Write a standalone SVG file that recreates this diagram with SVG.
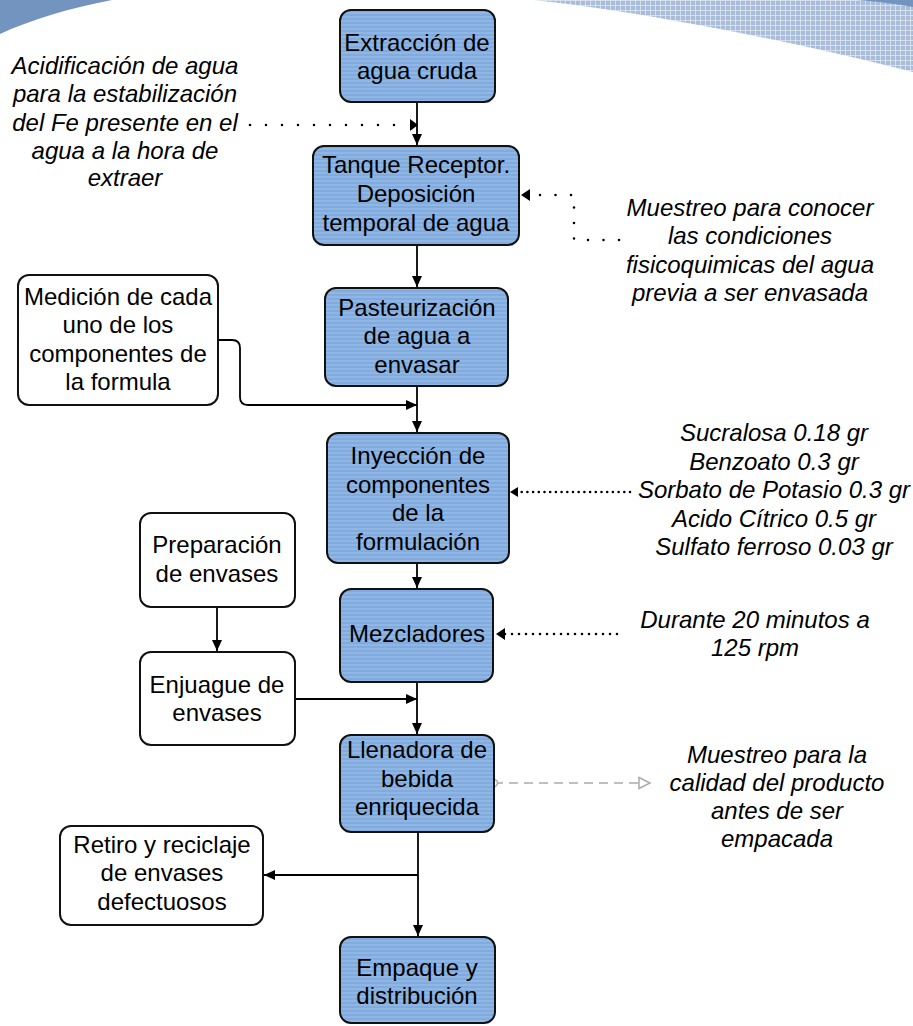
<svg xmlns="http://www.w3.org/2000/svg" width="913" height="1026" viewBox="0 0 913 1026">
<defs>
<style>
.t{font-family:"Liberation Sans",Arial,sans-serif;font-size:24px;fill:#000;text-anchor:middle}
.i{font-style:italic}
.blue{fill:url(#stripe);stroke:#111;stroke-width:2}
.white{fill:#fff;stroke:#111;stroke-width:2}
.ln{fill:none;stroke:#000;stroke-width:1.8}
.dot{fill:none;stroke:#000;stroke-width:2.6;stroke-linecap:round}
</style>
<pattern id="stripe" patternUnits="userSpaceOnUse" width="6" height="4">
<rect width="6" height="4" fill="#8fb6e4"/>
<rect y="2" width="6" height="2" fill="#82abdd"/>
</pattern>
<pattern id="hatch" patternUnits="userSpaceOnUse" width="5" height="5">
<rect width="5" height="5" fill="#a9bdda"/>
<path d="M0,0.5 H5 M0.5,0 V5" stroke="#dfe7f2" stroke-width="0.8"/>
</pattern>
<marker id="ar" markerUnits="userSpaceOnUse" markerWidth="12" markerHeight="10" refX="11" refY="5" orient="auto">
<path d="M0,0 L11,5 L0,10 Z" fill="#000"/>
</marker>
<marker id="aro" markerUnits="userSpaceOnUse" markerWidth="14" markerHeight="14" refX="12" refY="7" orient="auto">
<path d="M1,1.5 L12,7 L1,12.5 Z" fill="#fff" stroke="#aaa" stroke-width="1.5"/>
</marker>
<marker id="circ" markerUnits="userSpaceOnUse" markerWidth="10" markerHeight="10" refX="5" refY="5" orient="auto">
<circle cx="5" cy="5" r="3.5" fill="#fff" stroke="#aaa" stroke-width="1.5"/>
</marker>
</defs>
<rect width="913" height="1026" fill="#fff"/>
<g id="background">
<path d="M533,0 C630,10 780,38 913,72 L913,0 Z" fill="url(#hatch)"/>
<path d="M858,0 C880,2 898,4 913,7 L913,0 Z" fill="#7494c0"/>
<path d="M0,0 L112,0 C70,8 30,20 0,34 Z" fill="#7494c0"/>
</g>
<g id="connectors">
<path class="ln" d="M417,102 V145" marker-end="url(#ar)"/>
<path class="dot" d="M250,125 H410" stroke-dasharray="0 16"/>
<path d="M410,119 L418,125 L410,131 Z" fill="#000"/>
<path class="ln" d="M417,245 V287" marker-end="url(#ar)"/>
<path class="dot" d="M619,240 H574 V195 H528" stroke-dasharray="0 15.5"/>
<path d="M530,189 L521,195 L530,201 Z" fill="#000"/>
<path class="ln" d="M218,340 H232 Q240,340 240,348 V397 Q240,405 248,405 H417" marker-end="url(#ar)"/>
<path class="ln" d="M417,386 V432" marker-end="url(#ar)"/>
<path class="dot" d="M630,492 H516" stroke-width="2" stroke-dasharray="0 5.7"/>
<path d="M518,487 L510,492 L518,497 Z" fill="#000"/>
<path class="ln" d="M417,563 V588" marker-end="url(#ar)"/>
<path class="dot" d="M617,634 H504" stroke-width="2" stroke-dasharray="0 7"/>
<path d="M505,628 L496,634 L505,640 Z" fill="#000"/>
<path class="ln" d="M217,607 V651" marker-end="url(#ar)"/>
<path class="ln" d="M417,682 V734" marker-end="url(#ar)"/>
<path class="ln" d="M295,699 H417" marker-end="url(#ar)"/>
<path d="M494,783 H650" fill="none" stroke="#aaa" stroke-width="1.6" stroke-dasharray="9 6" marker-start="url(#circ)" marker-end="url(#aro)"/>
<path class="ln" d="M418,832 V936" marker-end="url(#ar)"/>
<path class="ln" d="M418,875 H264" marker-end="url(#ar)"/>
</g>
<g id="n-extraccion">
<rect class="blue" x="340" y="10" width="155" height="92" rx="11"/>
<text class="t" x="417" y="51">Extracción de</text>
<text class="t" x="417" y="79">agua cruda</text>
</g>
<g id="n-tanque">
<rect class="blue" x="313" y="146" width="206" height="99" rx="11"/>
<text class="t" x="416" y="173">Tanque Receptor.</text>
<text class="t" x="416" y="202">Deposición</text>
<text class="t" x="416" y="231">temporal de agua</text>
</g>
<g id="n-pasteurizacion">
<rect class="blue" x="325" y="288" width="183" height="98" rx="11"/>
<text class="t" x="417" y="316">Pasteurización</text>
<text class="t" x="417" y="344">de agua a</text>
<text class="t" x="417" y="373">envasar</text>
</g>
<g id="n-inyeccion">
<rect class="blue" x="327" y="433" width="182" height="130" rx="11"/>
<text class="t" x="418" y="464">Inyección de</text>
<text class="t" x="418" y="493">componentes</text>
<text class="t" x="418" y="521">de la</text>
<text class="t" x="418" y="550">formulación</text>
</g>
<g id="n-mezcladores">
<rect class="blue" x="340" y="589" width="153" height="93" rx="11"/>
<text class="t" x="417" y="642">Mezcladores</text>
</g>
<g id="n-llenadora">
<rect class="blue" x="340" y="735" width="154" height="97" rx="11"/>
<text class="t" x="417" y="758">Llenadora de</text>
<text class="t" x="417" y="787">bebida</text>
<text class="t" x="417" y="815">enriquecida</text>
</g>
<g id="n-empaque">
<rect class="blue" x="340" y="937" width="155" height="86" rx="11"/>
<text class="t" x="417" y="976">Empaque y</text>
<text class="t" x="417" y="1004">distribución</text>
</g>
<g id="n-medicion">
<rect class="white" x="18" y="275" width="200" height="130" rx="11"/>
<text class="t" x="118" y="305">Medición de cada</text>
<text class="t" x="118" y="333">uno de los</text>
<text class="t" x="118" y="362">componentes de</text>
<text class="t" x="118" y="390">la formula</text>
</g>
<g id="n-preparacion">
<rect class="white" x="140" y="513" width="155" height="94" rx="11"/>
<text class="t" x="217" y="553">Preparación</text>
<text class="t" x="217" y="582">de envases</text>
</g>
<g id="n-enjuague">
<rect class="white" x="140" y="652" width="155" height="93" rx="11"/>
<text class="t" x="217" y="693">Enjuague de</text>
<text class="t" x="217" y="721">envases</text>
</g>
<g id="n-retiro">
<rect class="white" x="60" y="826" width="203" height="99" rx="11"/>
<text class="t" x="162" y="853">Retiro y reciclaje</text>
<text class="t" x="162" y="881">de envases</text>
<text class="t" x="162" y="910">defectuosos</text>
</g>
<g id="note-acidificacion">
<text class="t i" x="125" y="74">Acidificación de agua</text>
<text class="t i" x="125" y="102">para la estabilización</text>
<text class="t i" x="125" y="131">del Fe presente en el</text>
<text class="t i" x="125" y="159">agua a la hora de</text>
<text class="t i" x="125" y="186">extraer</text>
</g>
<g id="note-muestreo1">
<text class="t i" x="750" y="216">Muestreo para conocer</text>
<text class="t i" x="750" y="244">las condiciones</text>
<text class="t i" x="750" y="273">fisicoquimicas del agua</text>
<text class="t i" x="750" y="301">previa a ser envasada</text>
</g>
<g id="note-formula">
<text class="t i" x="774" y="441">Sucralosa 0.18 gr</text>
<text class="t i" x="774" y="470">Benzoato 0.3 gr</text>
<text class="t i" x="774" y="498">Sorbato de Potasio 0.3 gr</text>
<text class="t i" x="774" y="527">Acido Cítrico 0.5 gr</text>
<text class="t i" x="774" y="555">Sulfato ferroso 0.03 gr</text>
</g>
<g id="note-durante">
<text class="t i" x="755" y="628">Durante 20 minutos a</text>
<text class="t i" x="755" y="656">125 rpm</text>
</g>
<g id="note-muestreo2">
<text class="t i" x="777" y="763">Muestreo para la</text>
<text class="t i" x="777" y="791">calidad del producto</text>
<text class="t i" x="777" y="819">antes de ser</text>
<text class="t i" x="777" y="847">empacada</text>
</g>
</svg>
